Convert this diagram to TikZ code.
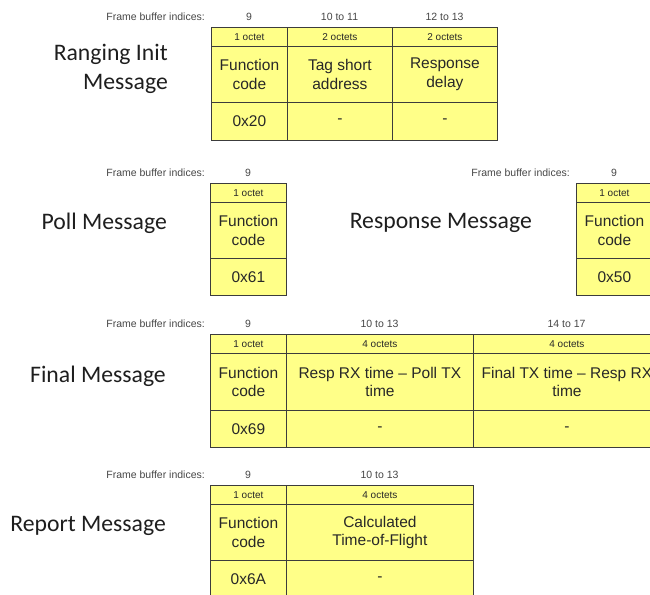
\documentclass[tikz,border=0pt]{standalone}
\usepackage{fontspec}
\setmainfont{Liberation Sans}
\newfontfamily\titlefont{Carlito}
\definecolor{cellfill}{RGB}{255,255,136}
\definecolor{cellline}{RGB}{60,60,60}
\definecolor{celltext}{RGB}{40,40,40}
\definecolor{indextext}{RGB}{70,70,70}
\definecolor{titletext}{RGB}{30,30,30}

\begin{document}
\begin{tikzpicture}[x=1pt,y=-1pt,
    cell/.style={draw=cellline,fill=cellfill,line width=0.8pt,inner sep=0pt,anchor=north west,align=center,text=celltext},
    octet/.style={cell,minimum height=19pt,font=\fontsize{10}{12}\selectfont},
    field/.style={cell,minimum height=56pt,font=\fontsize{15.5}{18.5}\selectfont},
    value/.style={cell,minimum height=38pt,font=\fontsize{15.5}{18.5}\selectfont},
    index/.style={text=indextext,font=\fontsize{10.5}{12}\selectfont},
    fbi/.style={index,anchor=east,inner sep=0pt},
    title/.style={anchor=east,align=right,inner sep=0pt,text=titletext,font=\titlefont\fontsize{23.7}{29}\selectfont}]
    \useasboundingbox (0,0) rectangle (650,594);
    \clip (0,0) rectangle (650,594);

    % Ranging Init Message
    \node[title] (riTitle) at (168,69) {Ranging Init\\Message};
    \node[fbi] (riFbi) at (205,17) {Frame buffer indices:};
    \node[index] (riIdxA) at (249,17) {9};
    \node[index] (riIdxB) at (339.5,17) {10 to 11};
    \node[index] (riIdxC) at (444.5,17) {12 to 13};
    \node[octet,minimum width=76pt] (riOctA) at (211,27) {1 octet};
    \node[octet,minimum width=105pt] (riOctB) at (287,27) {2 octets};
    \node[octet,minimum width=105pt] (riOctC) at (392,27) {2 octets};
    \node[field,minimum width=76pt] (riFieldA) at (211,46) {Function\\code};
    \node[field,minimum width=105pt] (riFieldB) at (287,46) {Tag short\\address};
    \node[field,minimum width=105pt] (riFieldC) at (392,46) {Response\\delay};
    \node[value,minimum width=76pt] (riValA) at (211,102) {0x20};
    \node[value,minimum width=105pt] (riValB) at (287,102) {-};
    \node[value,minimum width=105pt] (riValC) at (392,102) {-};

    % Poll Message
    \node[title] (pollTitle) at (167,223) {Poll Message};
    \node[fbi] (pollFbi) at (205,173) {Frame buffer indices:};
    \node[index] (pollIdxA) at (248,173) {9};
    \node[octet,minimum width=76pt] (pollOctA) at (210,183) {1 octet};
    \node[field,minimum width=76pt] (pollFieldA) at (210,202) {Function\\code};
    \node[value,minimum width=76pt,minimum height=37pt] (pollValA) at (210,258) {0x61};

    % Response Message
    \node[title] (respTitle) at (532,223) {Response Message};
    \node[fbi] (respFbi) at (570,173) {Frame buffer indices:};
    \node[index] (respIdxA) at (614,173) {9};
    \node[octet,minimum width=76pt] (respOctA) at (576,183) {1 octet};
    \node[field,minimum width=76pt] (respFieldA) at (576,202) {Function\\code};
    \node[value,minimum width=76pt,minimum height=37pt] (respValA) at (576,258) {0x50};

    % Final Message
    \node[title] (finalTitle) at (166,376) {Final Message};
    \node[fbi] (finalFbi) at (205,324) {Frame buffer indices:};
    \node[index] (finalIdxA) at (248,324) {9};
    \node[index] (finalIdxB) at (379.5,324) {10 to 13};
    \node[index] (finalIdxC) at (566.5,324) {14 to 17};
    \node[octet,minimum width=76pt] (finalOctA) at (210,334) {1 octet};
    \node[octet,minimum width=187pt] (finalOctB) at (286,334) {4 octets};
    \node[octet,minimum width=187pt] (finalOctC) at (473,334) {4 octets};
    \node[field,minimum width=76pt,minimum height=57pt] (finalFieldA) at (210,353) {Function\\code};
    \node[field,minimum width=187pt,minimum height=57pt] (finalFieldB) at (286,353) {Resp RX time -- Poll TX\\time};
    \node[field,minimum width=187pt,minimum height=57pt] (finalFieldC) at (473,353) {Final TX time -- Resp RX\\time};
    \node[value,minimum width=76pt,minimum height=37pt] (finalValA) at (210,410) {0x69};
    \node[value,minimum width=187pt,minimum height=37pt] (finalValB) at (286,410) {-};
    \node[value,minimum width=187pt,minimum height=37pt] (finalValC) at (473,410) {-};

    % Report Message
    \node[title] (repTitle) at (166,526) {Report Message};
    \node[fbi] (repFbi) at (205,475) {Frame buffer indices:};
    \node[index] (repIdxA) at (248,475) {9};
    \node[index] (repIdxB) at (379.5,475) {10 to 13};
    \node[octet,minimum width=76pt] (repOctA) at (210,485) {1 octet};
    \node[octet,minimum width=187pt] (repOctB) at (286,485) {4 octets};
    \node[field,minimum width=76pt] (repFieldA) at (210,504) {Function\\code};
    \node[field,minimum width=187pt] (repFieldB) at (286,504) {Calculated\\Time-of-Flight};
    \node[value,minimum width=76pt] (repValA) at (210,560) {0x6A};
    \node[value,minimum width=187pt] (repValB) at (286,560) {-};
\end{tikzpicture}
\end{document}
